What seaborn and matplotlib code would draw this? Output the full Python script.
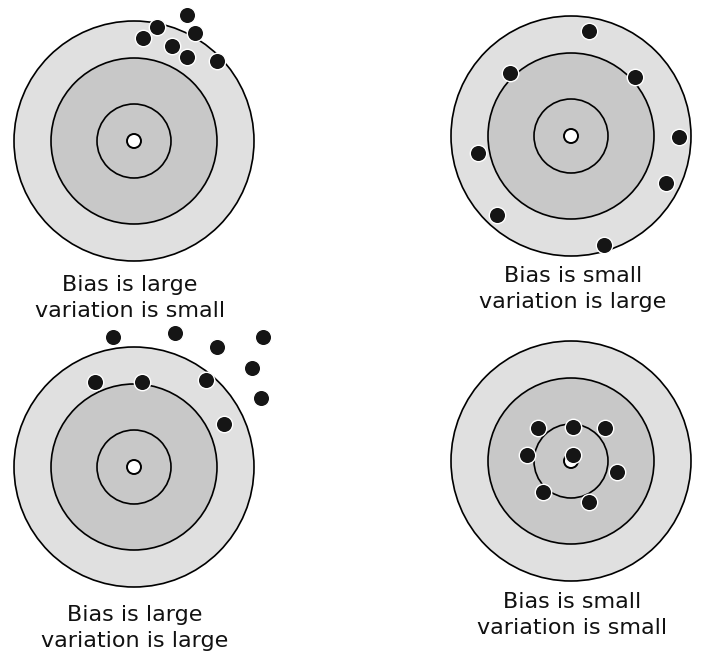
import pandas as pd
import seaborn as sns
import matplotlib.pyplot as plt
from matplotlib.patches import Circle

# target layout (pixel space of the original picture)
target_cx = [134, 571, 134, 571]
target_cy = [141, 136, 467, 461]
ring_radii = [120, 83, 37]
ring_colors = ['#e0e0e0', '#c8c8c8', '#c8c8c8']
bull_radius = 7

captions = ['Bias is large\nvariation is small',
            'Bias is small\nvariation is large',
            'Bias is large\nvariation is large',
            'Bias is small\nvariation is small']
caption_x = [130, 573, 135, 572]
caption_y = [298, 289, 628, 615]

# shot positions per target
tl_x = [187, 157, 195, 143, 172, 187, 217]
tl_y = [15, 27, 33, 38, 46, 57, 61]
tr_x = [589, 510, 635, 679, 478, 666, 497, 604]
tr_y = [31, 73, 77, 137, 153, 183, 215, 245]
bl_x = [113, 175, 263, 217, 252, 95, 142, 206, 261, 224]
bl_y = [337, 333, 337, 347, 368, 382, 382, 380, 398, 424]
br_x = [538, 573, 605, 527, 573, 617, 543, 589]
br_y = [428, 427, 428, 455, 455, 472, 492, 502]

shots = pd.DataFrame({
    'x': tl_x + tr_x + bl_x + br_x,
    'y': tl_y + tr_y + bl_y + br_y,
})

sns.set_style('white')

fig = plt.figure(figsize=(7.01, 6.52), dpi=100)
ax = fig.add_axes([0, 0, 1, 1])

# rings
for cx, cy in zip(target_cx, target_cy):
    for r, c in zip(ring_radii, ring_colors):
        ax.add_patch(Circle((cx, cy), r, facecolor=c, edgecolor='black',
                            linewidth=1.2, zorder=1))
    ax.add_patch(Circle((cx, cy), bull_radius, facecolor='white',
                        edgecolor='black', linewidth=1.4, zorder=2))

# shots
sns.scatterplot(data=shots, x='x', y='y', ax=ax, s=140, color='#151515',
                edgecolor='white', linewidth=1.0, marker='o', zorder=5,
                legend=False)

for tx, ty, txt in zip(caption_x, caption_y, captions):
    ax.text(tx, ty, txt, ha='center', va='center', fontsize=16,
            family='DejaVu Sans', color='#111111', linespacing=1.4)

ax.set_xlim(0, 701)
ax.set_ylim(652, 0)
ax.set_xlabel('')
ax.set_ylabel('')
ax.axis('off')

fig.savefig('out.png', dpi=100, facecolor='white')
